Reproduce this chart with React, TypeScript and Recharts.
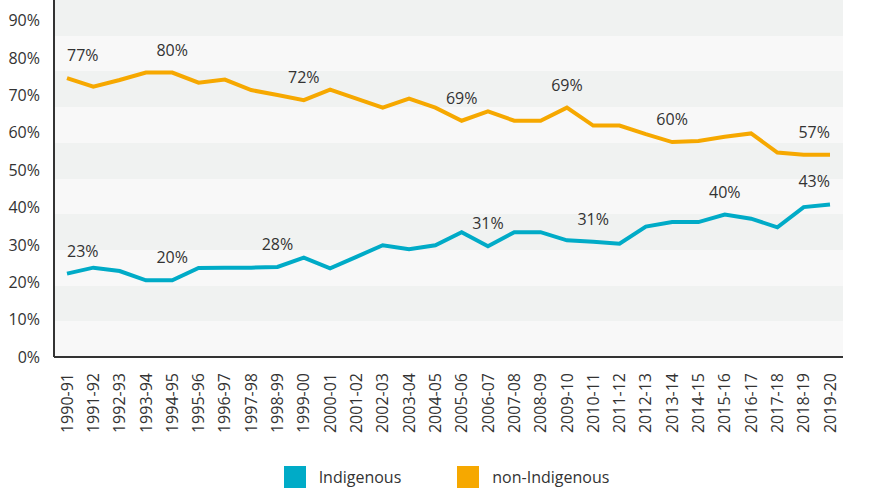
import React from 'react';
import {
  LineChart,
  Line,
  XAxis,
  YAxis,
  CartesianGrid,
  Legend,
} from 'recharts';

const years = [
  '1990-91', '1991-92', '1992-93', '1993-94', '1994-95', '1995-96',
  '1996-97', '1997-98', '1998-99', '1999-00', '2000-01', '2001-02',
  '2002-03', '2003-04', '2004-05', '2005-06', '2006-07', '2007-08',
  '2008-09', '2009-10', '2010-11', '2011-12', '2012-13', '2013-14',
  '2014-15', '2015-16', '2016-17', '2017-18', '2018-19', '2019-20',
];

const indigenous = [
  22.3, 23.9, 23.0, 20.5, 20.5, 23.8, 23.9, 23.9, 24.1, 26.6,
  23.7, 26.8, 29.9, 28.8, 29.9, 33.4, 29.6, 33.4, 33.4, 31.2,
  30.8, 30.3, 34.9, 36.1, 36.1, 38.1, 37.0, 34.7, 40.1, 40.8,
];

const nonIndigenous = [
  74.6, 72.3, 74.1, 76.1, 76.1, 73.4, 74.2, 71.4, 70.1, 68.7,
  71.5, 69.1, 66.7, 69.1, 66.7, 63.2, 65.7, 63.2, 63.2, 66.7,
  61.9, 61.9, 59.6, 57.5, 57.8, 58.9, 59.8, 54.7, 54.1, 54.1,
];

// annotations shown above the lines
const indigenousLabelAt = [0, 4, 8, 16, 20, 25, 29];
const indigenousLabels = ['23%', '20%', '28%', '31%', '31%', '40%', '43%'];
const nonIndigenousLabelAt = [0, 4, 9, 15, 19, 23, 29];
const nonIndigenousLabels = ['77%', '80%', '72%', '69%', '69%', '60%', '57%'];

const yTicks = [0, 10, 20, 30, 40, 50, 60, 70, 80, 90];
const yMax = 95.5;

const BLUE = '#00abc7';
const ORANGE = '#f6a800';
const TEXT = '#333333';
const FONT = '"Open Sans", sans-serif';

const data = years.map((year, i) => ({
  year,
  indigenous: indigenous[i],
  nonIndigenous: nonIndigenous[i],
}));

// background stripes: ten equal bands over the value range
const bandEdges = Array.from({ length: 10 }, (_, k) => ((k + 1) * yMax) / 10);

function stripeRows(args: any) {
  const off = args && args.offset;
  if (!off) return [];
  return bandEdges.map((v) => off.top + off.height * (1 - v / yMax));
}

function makeLabel(at: number[], texts: string[]) {
  return (props: any) => {
    const { x, y, index } = props;
    const pos = at.indexOf(index);
    if (pos < 0) return null;
    const anchor = index === 0 ? 'start' : index === years.length - 1 ? 'end' : 'middle';
    return (
      <text
        key={`lbl-${index}`}
        x={x}
        y={y - 17}
        textAnchor={anchor}
        fill={TEXT}
        fontSize={16}
        fontFamily={FONT}
      >
        {texts[pos]}
      </text>
    );
  };
}

function YearTick(props: any) {
  const { x, y, payload } = props;
  return (
    <g transform={`translate(${x},${y + 8})`}>
      <text
        transform="rotate(-90)"
        textAnchor="end"
        dy="0.35em"
        fill={TEXT}
        fontSize={16}
        fontFamily={FONT}
      >
        {payload.value}
      </text>
    </g>
  );
}

function ChartLegend() {
  const items = [
    { name: 'Indigenous', color: BLUE },
    { name: 'non-Indigenous', color: ORANGE },
  ];
  return (
    <div
      style={{
        height: 36,
        boxSizing: 'border-box',
        paddingTop: 4,
        paddingLeft: 50,
        display: 'flex',
        justifyContent: 'center',
        alignItems: 'center',
        gap: 56,
        fontFamily: FONT,
        fontSize: 16,
        color: TEXT,
      }}
    >
      {items.map((it) => (
        <div key={it.name} style={{ display: 'flex', alignItems: 'center', gap: 13 }}>
          <div style={{ width: 22, height: 22, backgroundColor: it.color }} />
          <span>{it.name}</span>
        </div>
      ))}
    </div>
  );
}

export default function App() {
  return (
    <div
      style={{
        position: 'fixed',
        left: 0,
        top: 0,
        width: 873,
        height: 493,
        background: '#ffffff',
        overflow: 'hidden',
      }}
    >
      <LineChart
        width={873}
        height={493}
        data={data}
        margin={{ top: 0, right: 30, bottom: 0, left: 0 }}
      >
        <CartesianGrid
          vertical={false}
          stroke="none"
          horizontalFill={['#f0f2f1', '#f8f8f8']}
          fillOpacity={1}
          horizontalCoordinatesGenerator={stripeRows}
        />
        <XAxis
          dataKey="year"
          interval={0}
          height={100}
          padding={{ left: 13, right: 13 }}
          tickLine={false}
          axisLine={{ stroke: TEXT, strokeWidth: 2 }}
          tick={<YearTick />}
        />
        <YAxis
          width={54}
          domain={[0, yMax]}
          ticks={yTicks}
          tickFormatter={(v) => `${v}%`}
          tickLine={false}
          tickSize={10}
          tickMargin={4}
          axisLine={{ stroke: TEXT, strokeWidth: 2 }}
          tick={{ fill: TEXT, fontSize: 16, fontFamily: FONT }}
        />
        <Legend verticalAlign="bottom" content={<ChartLegend />} />
        <Line
          type="linear"
          dataKey="indigenous"
          name="Indigenous"
          stroke={BLUE}
          strokeWidth={4}
          dot={false}
          isAnimationActive={false}
          label={makeLabel(indigenousLabelAt, indigenousLabels)}
        />
        <Line
          type="linear"
          dataKey="nonIndigenous"
          name="non-Indigenous"
          stroke={ORANGE}
          strokeWidth={4}
          dot={false}
          isAnimationActive={false}
          label={makeLabel(nonIndigenousLabelAt, nonIndigenousLabels)}
        />
      </LineChart>
    </div>
  );
}
